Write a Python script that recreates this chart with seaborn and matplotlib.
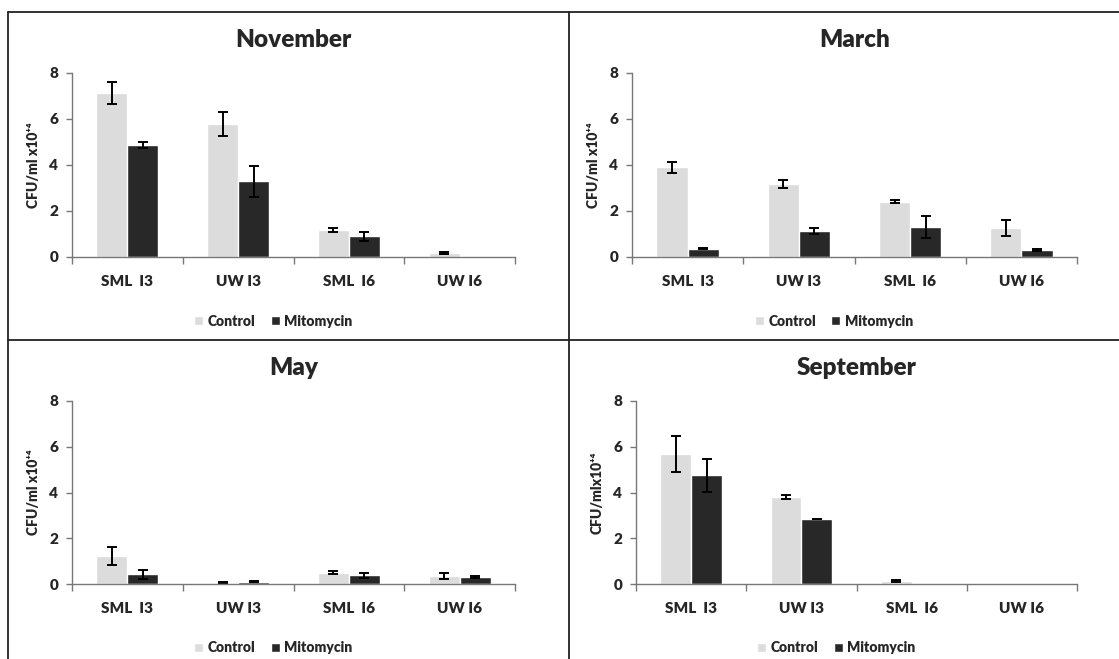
import numpy as np
import pandas as pd
import seaborn as sns
import matplotlib.pyplot as plt
from matplotlib.lines import Line2D

sites = ['SML  I3', 'UW I3', 'SML  I6', 'UW I6']
treatments = ['Control', 'Mitomycin']
months = ['November', 'March', 'May', 'September']

# means (CFU/ml x10^4) and error bars
nov_control = [7.12, 5.77, 1.17, 0.18]
nov_control_err = [0.47, 0.53, 0.09, 0.03]
nov_mito = [4.88, 3.30, 0.90, 0.0]
nov_mito_err = [0.12, 0.67, 0.20, 0.0]

mar_control = [3.90, 3.18, 2.40, 1.26]
mar_control_err = [0.25, 0.17, 0.07, 0.34]
mar_mito = [0.36, 1.15, 1.30, 0.29]
mar_mito_err = [0.02, 0.13, 0.49, 0.04]

may_control = [1.21, 0.06, 0.50, 0.35]
may_control_err = [0.40, 0.02, 0.07, 0.14]
may_mito = [0.43, 0.09, 0.39, 0.32]
may_mito_err = [0.20, 0.02, 0.11, 0.05]

sep_control = [5.68, 3.80, 0.13, 0.0]
sep_control_err = [0.77, 0.08, 0.05, 0.0]
sep_mito = [4.75, 2.84, 0.0, 0.0]
sep_mito_err = [0.72, 0.02, 0.0, 0.0]

ylabels = ['CFU/ml x10⁺⁴', 'CFU/ml x10⁺⁴', 'CFU/ml x10⁺⁴', 'CFU/mlx10⁺⁴']

rows = []
series = {
    'November': (nov_control, nov_control_err, nov_mito, nov_mito_err),
    'March': (mar_control, mar_control_err, mar_mito, mar_mito_err),
    'May': (may_control, may_control_err, may_mito, may_mito_err),
    'September': (sep_control, sep_control_err, sep_mito, sep_mito_err),
}
for m in months:
    c, ce, mi, mie = series[m]
    for i, s in enumerate(sites):
        rows.append([m, s, 'Control', c[i], ce[i]])
        rows.append([m, s, 'Mitomycin', mi[i], mie[i]])
df = pd.DataFrame(rows, columns=['Month', 'Site', 'Treatment', 'CFU', 'Err'])

sns.set_style('white')
plt.rcParams['font.family'] = ['Lato', 'DejaVu Sans']
plt.rcParams['font.weight'] = 'heavy'

W, H = 1119, 659
fig = plt.figure(figsize=(W / 100, H / 100), dpi=100)

# axes boxes in pixels: left, top, right, bottom
boxes = [(72, 73, 515, 257), (632, 73, 1077, 257),
         (72, 401, 515, 584), (636, 401, 1077, 584)]
pal = {'Control': '#dcdcdc', 'Mitomycin': '#282828'}

for k, m in enumerate(months):
    l, t, r, b = boxes[k]
    ax = fig.add_axes([l / W, 1 - b / H, (r - l) / W, (b - t) / H])
    d = df[df.Month == m]
    sns.barplot(data=d, x='Site', y='CFU', hue='Treatment', order=sites,
                hue_order=treatments, palette=pal, width=0.56,
                errorbar=None, saturation=1, ax=ax)
    for cont, tr in zip(ax.containers, treatments):
        dd = d[d.Treatment == tr].set_index('Site').loc[sites]
        xs = np.array([p.get_x() + p.get_width() / 2 for p in cont])
        keep = dd['Err'].values > 0
        ax.errorbar(xs[keep], dd['CFU'].values[keep], yerr=dd['Err'].values[keep],
                    fmt='none', ecolor='black', elinewidth=1.4, capsize=3.5,
                    capthick=1.4)
    ax.set_ylim(0, 8)
    ax.set_xlim(-0.5, 3.5)
    ax.set_yticks([0, 2, 4, 6, 8])
    ax.set_xticks(range(4))
    ax.set_xticklabels(sites)
    ax.set_xticks(np.arange(-0.5, 4, 1), minor=True)
    ax.tick_params(axis='x', which='major', length=0, pad=13, labelsize=11)
    ax.tick_params(axis='x', which='minor', length=5, width=1, color='#777777',
                   direction='out', bottom=True)
    ax.tick_params(axis='y', length=4, width=1, color='#777777', direction='out',
                   left=True, labelsize=11, pad=6)
    sns.despine(ax=ax)
    for sp in ['left', 'bottom']:
        ax.spines[sp].set_color('#777777')
        ax.spines[sp].set_linewidth(1)
    ax.set_xlabel('')
    ax.set_ylabel(ylabels[k], fontsize=10, fontweight='heavy', labelpad=7)
    ax.set_title(m, fontsize=17.5, fontweight='heavy', pad=19)
    ax.legend(loc='upper center', bbox_to_anchor=(0.454, -0.245), ncol=2,
              frameon=False, handlelength=0.65, handleheight=0.65,
              handletextpad=0.3, columnspacing=1.1,
              prop={'weight': 'heavy', 'size': 10})

# panel frame lines
lc = '#222222'
fig.add_artist(Line2D([8 / W, 8 / W], [0, 1 - 12 / H], color=lc, lw=1.3))
fig.add_artist(Line2D([8 / W, 1], [1 - 12 / H, 1 - 12 / H], color=lc, lw=1.3))
fig.add_artist(Line2D([568.5 / W, 568.5 / W], [0, 1 - 12 / H], color=lc, lw=1.3))
fig.add_artist(Line2D([8 / W, 1], [1 - 340 / H, 1 - 340 / H], color=lc, lw=1.3))

fig.savefig('out.png', dpi=100, facecolor='white')
